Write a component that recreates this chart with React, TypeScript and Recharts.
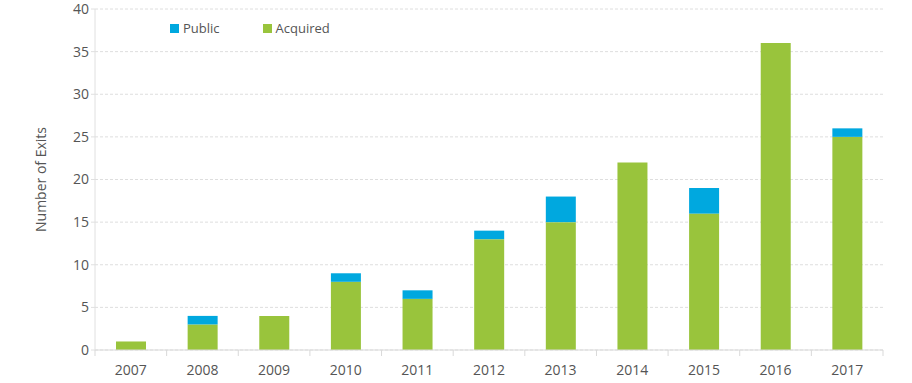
import React from "react";
import { BarChart, Bar, XAxis, YAxis, CartesianGrid, Legend } from "recharts";

// years on the x axis
const years = ["2007", "2008", "2009", "2010", "2011", "2012", "2013", "2014", "2015", "2016", "2017"];
// acquired exits (green, bottom of stack)
const acquired = [1, 3, 4, 8, 6, 13, 15, 22, 16, 36, 25];
// public exits (blue, on top)
const publicExits = [0, 1, 0, 1, 1, 1, 3, 0, 3, 0, 1];
const yTicks = [0, 5, 10, 15, 20, 25, 30, 35, 40];

const GREEN = "#99c43c";
const BLUE = "#00a8df";
const FONT = "'Open Sans', 'Noto Sans', sans-serif";

const chartData = years.map((year, i) => ({
  year,
  Acquired: acquired[i],
  Public: publicExits[i],
}));

const W = 912;
const H = 383;
const PLOT_LEFT = 95;
const PLOT_RIGHT = 29;
const BAND = (W - PLOT_LEFT - PLOT_RIGHT) / years.length;

// label in the middle, tick mark on the left edge of each band
const YearTick = (props: any) => {
  const { x, y, payload, index } = props;
  const last = index === years.length - 1;
  return (
    <g>
      <line x1={x - BAND / 2} x2={x - BAND / 2} y1={y - 8} y2={y - 2} stroke="#d9d9d9" />
      {last && <line x1={x + BAND / 2} x2={x + BAND / 2} y1={y - 8} y2={y - 2} stroke="#d9d9d9" />}
      <text x={x} y={y + 17} textAnchor="middle" fill="#555" fontSize={14} fontFamily={FONT}>
        {payload.value}
      </text>
    </g>
  );
};

const LegendContent = () => {
  const items = [
    { name: "Public", color: BLUE },
    { name: "Acquired", color: GREEN },
  ];
  return (
    <div style={{ display: "flex", gap: 43, fontFamily: FONT, fontSize: 13, color: "#555" }}>
      {items.map((it) => (
        <div key={it.name} style={{ display: "flex", alignItems: "center", gap: 4 }}>
          <div style={{ width: 9, height: 9, backgroundColor: it.color }} />
          <span>{it.name}</span>
        </div>
      ))}
    </div>
  );
};

export default function App() {
  return (
    <div style={{ width: W, height: H, background: "#fff" }}>
      <style>{"body{margin:0}"}</style>
      <BarChart
        width={W}
        height={H}
        data={chartData}
        margin={{ top: 9, right: PLOT_RIGHT, left: 35, bottom: 0 }}
        barCategoryGap={0}
      >
        <CartesianGrid horizontal vertical={false} stroke="#dedede" strokeDasharray="3 2" />
        <XAxis
          dataKey="year"
          axisLine={{ stroke: "#d9d9d9" }}
          tickLine={false}
          height={33}
          tick={<YearTick />}
          interval={0}
        />
        <YAxis
          domain={[0, 40]}
          ticks={yTicks}
          width={60}
          axisLine={{ stroke: "#e0e0e0" }}
          tickLine={{ stroke: "#e0e0e0" }}
          tickSize={4}
          tick={{ fill: "#555", fontSize: 14, fontFamily: FONT }}
          label={{
            value: "Number of Exits",
            angle: -90,
            position: "insideLeft",
            offset: 0,
            dx: 6,
            dy: 0,
            style: { textAnchor: "middle", fill: "#555", fontSize: 14, fontFamily: FONT },
          }}
        />
        {/* centre/middle so the legend reserves no space; placed by wrapperStyle */}
        <Legend
          verticalAlign="middle"
          align="center"
          layout="horizontal"
          content={<LegendContent />}
          wrapperStyle={{ top: 19, left: 170, width: "auto" }}
        />
        <Bar dataKey="Acquired" stackId="a" fill={GREEN} barSize={30} isAnimationActive={false} />
        <Bar dataKey="Public" stackId="a" fill={BLUE} barSize={30} isAnimationActive={false} />
      </BarChart>
    </div>
  );
}
